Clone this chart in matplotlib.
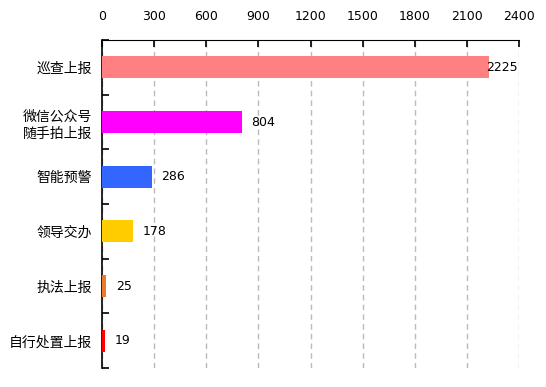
import numpy as np
import matplotlib as mpl
mpl.use('Agg')
from matplotlib import pyplot as plt

plt.rcParams['font.family'] = ['Noto Sans CJK SC', 'DejaVu Sans']

categories = ['巡查上报', '微信公众号\n随手拍上报', '智能预警', '领导交办', '执法上报', '自行处置上报']
values = [2225, 804, 286, 178, 25, 19]
colors = ['#FF8080', '#FF00FF', '#3366FF', '#FFCC00', '#E8792E', '#FF0000']
xticks = [0, 300, 600, 900, 1200, 1500, 1800, 2100, 2400]

fig = plt.figure(figsize=(5.46, 3.87), dpi=100)
axe = fig.add_axes([102/546, 1-368/387, 417/546, 328/387])

y = np.arange(len(categories))
axe.barh(y, values, height=0.4, color=colors, zorder=3)
axe.set_ylim(len(categories)-0.5, -0.5)
axe.set_xlim(0, 2400)

# value labels
for yi, v in zip(y, values):
    if v > 2000:
        axe.annotate(str(v), (v, yi), xytext=(-2, 0), textcoords='offset points',
                     va='center', ha='left', fontsize=9, family='DejaVu Sans', zorder=4)
    else:
        axe.annotate(str(v), (v, yi), xytext=(7, 0), textcoords='offset points',
                     va='center', ha='left', fontsize=9, family='DejaVu Sans')

axe.xaxis.tick_top()
axe.set_xticks(xticks)
axe.set_xticklabels([str(t) for t in xticks], fontsize=9, family='DejaVu Sans')
axe.tick_params(axis='x', direction='in', length=5, width=1.2, pad=12, colors='black')
axe.grid(axis='x', linestyle=(0, (4, 3)), color='#BBBBBB', linewidth=1, zorder=0)

axe.set_yticks(y)
axe.set_yticklabels(categories, fontsize=10, linespacing=1.3)
axe.tick_params(axis='y', which='major', length=0, pad=7)
axe.set_yticks(np.arange(len(categories)+1) - 0.5, minor=True)
axe.tick_params(axis='y', which='minor', direction='in', length=5, width=1.2)

axe.spines['right'].set_visible(False)
axe.spines['bottom'].set_visible(False)
axe.spines['top'].set_color('black')
axe.spines['left'].set_color('black')
axe.spines['left'].set_linewidth(1.2)

plt.savefig('out.png', dpi=100)
